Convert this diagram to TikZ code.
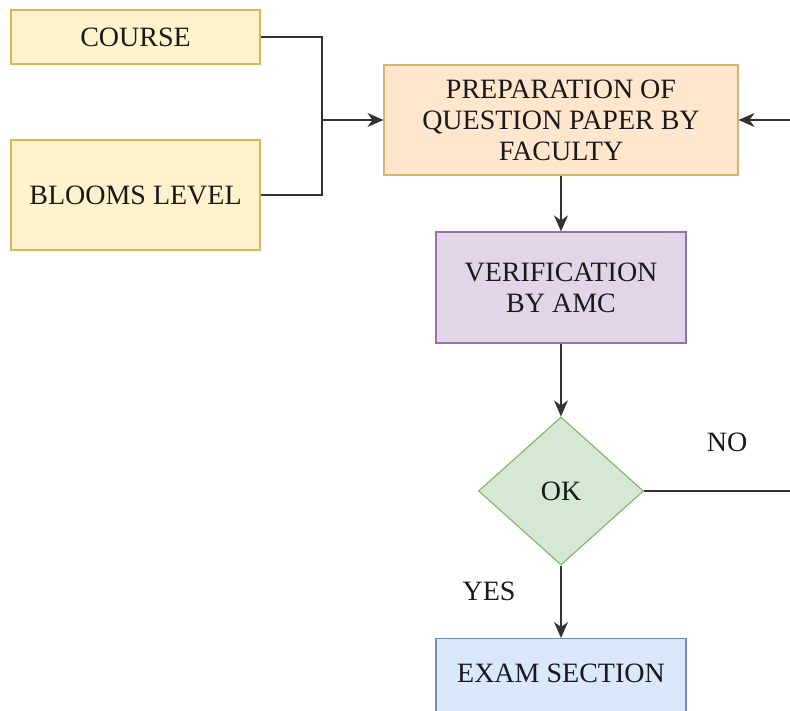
\documentclass[tikz,border=0pt]{standalone}
\usepackage{fontspec}
\setmainfont{Liberation Serif}
\usepackage{tikz}
\usetikzlibrary{arrows.meta,positioning,shapes.geometric}
\usepackage{xcolor}
\definecolor{yelfill}{HTML}{FFF2CC}
\definecolor{yeldraw}{HTML}{D6B656}
\definecolor{orgfill}{HTML}{FFE6CC}
\definecolor{orgdraw}{HTML}{D7B46E}
\definecolor{purfill}{HTML}{E1D5E7}
\definecolor{purdraw}{HTML}{9673A6}
\definecolor{grnfill}{HTML}{D5E8D4}
\definecolor{grndraw}{HTML}{82B366}
\definecolor{blufill}{HTML}{DAE8FC}
\definecolor{bludraw}{HTML}{6C8EBF}
\tikzset{
  basebox/.style={line width=1.1pt, inner sep=0pt, align=center, text=black!90,
                  font=\fontsize{28}{31}\selectfont},
  inbox/.style={basebox, draw=yeldraw, fill=yelfill, minimum width=249pt},
  prepbox/.style={basebox, draw=orgdraw, fill=orgfill},
  amcbox/.style={basebox, draw=purdraw, fill=purfill},
  okdiamond/.style={basebox, shape=diamond, draw=grndraw, fill=grnfill,
                    minimum width=165pt, minimum height=148pt},
  exambox/.style={basebox, draw=bludraw, fill=blufill, minimum width=250pt},
  flowline/.style={draw=black!80, line width=1.5pt},
  flowarr/.style={flowline, -{Stealth[length=16pt,width=14pt,inset=5pt]}},
  flowlab/.style={font=\fontsize{28}{31}\selectfont, text=black!90},
}
\begin{document}
\begin{tikzpicture}[x=1pt,y=1pt]
\useasboundingbox (0,0) rectangle (790,711);
\node[inbox, minimum height=54pt] (course) at (135.5,674) {COURSE};
\node[inbox, minimum height=110pt] (blooms) at (135.5,516) {BLOOMS LEVEL};
\node[prepbox, minimum width=354pt, minimum height=110pt] (prep) at (561,591)
  {PREPARATION OF\\QUESTION PAPER BY\\FACULTY};
\node[amcbox, minimum width=250pt, minimum height=111pt] (verify) at (561,423.5)
  {VERIFICATION\\BY AMC};
\node[okdiamond] (ok) at (561,220) {OK};
\node[exambox, anchor=north, text height=44pt, text depth=60pt] (exam) at (561,73)
  {EXAM SECTION};
\node[flowlab] (nolab) at (727,269) {NO};
\node[flowlab] (yeslab) at (489,120) {YES};
\coordinate (join) at (322,591);
\coordinate (noend) at (790,220);
\coordinate (backin) at (790,591);
\draw[flowline] (course.east) -| (join);
\draw[flowline] (blooms.east) -| (join);
\draw[flowarr] (join) -- (prep.west);
\draw[flowarr] (backin) -- (prep.east);
\draw[flowarr] (prep.south) -- (verify.north);
\draw[flowarr] (verify.south) -- (ok.north);
\draw[flowline] (ok.east) -- (noend);
\draw[flowarr] (ok.south) -- (exam.north);
\end{tikzpicture}
\end{document}
